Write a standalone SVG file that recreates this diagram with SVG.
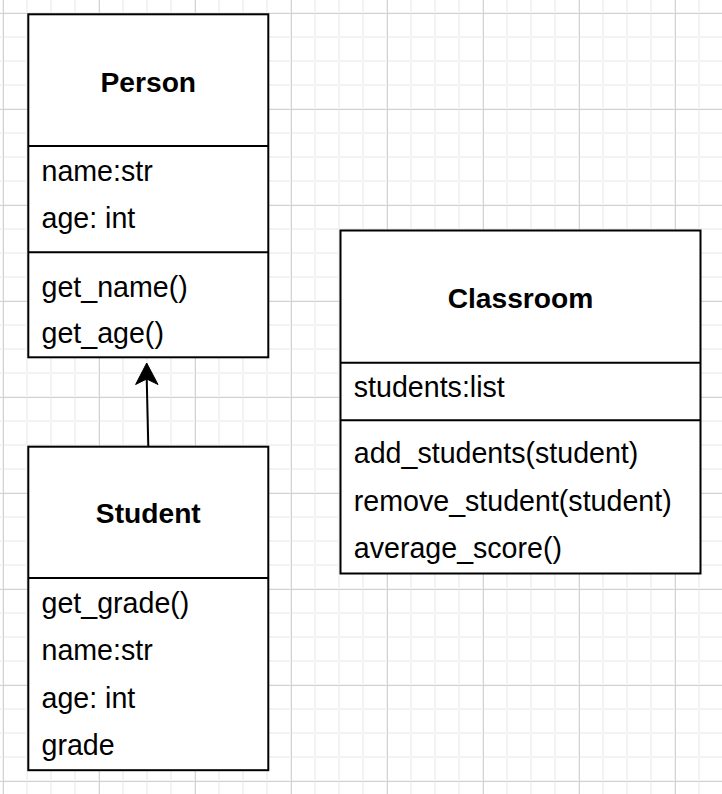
<svg xmlns="http://www.w3.org/2000/svg" width="722" height="794" viewBox="0 0 722 794">
<style>
.minor{stroke:#f3f3f3;stroke-width:2;fill:none}
.major{stroke:#d2d2d2;stroke-width:1;fill:none}
.box{fill:#ffffff;stroke:#000000;stroke-width:2}
.sep{stroke:#000000;stroke-width:2;fill:none}
.title{font-family:"Liberation Sans",Arial,Helvetica,sans-serif;font-size:28.2px;font-weight:bold;text-anchor:middle;fill:#000}
.row{font-family:"Liberation Sans",Arial,Helvetica,sans-serif;font-size:28.6px;fill:#000}
.edge{stroke:#000000;stroke-width:2;fill:none}
</style>
<rect x="0" y="0" width="722" height="794" fill="#ffffff"/>
<g id="grid">
<path class="minor" d="M3 0V794M27 0V794M51 0V794M75 0V794M99 0V794M123 0V794M147 0V794M171 0V794M195 0V794M219 0V794M243 0V794M267 0V794M291 0V794M315 0V794M339 0V794M363 0V794M387 0V794M411 0V794M435 0V794M459 0V794M483 0V794M507 0V794M531 0V794M555 0V794M579 0V794M603 0V794M627 0V794M651 0V794M675 0V794M699 0V794
M0 13H722M0 37H722M0 61H722M0 85H722M0 109H722M0 133H722M0 157H722M0 181H722M0 205H722M0 229H722M0 253H722M0 277H722M0 301H722M0 325H722M0 349H722M0 373H722M0 397H722M0 421H722M0 445H722M0 469H722M0 493H722M0 517H722M0 541H722M0 565H722M0 589H722M0 613H722M0 637H722M0 661H722M0 685H722M0 709H722M0 733H722M0 757H722M0 781H722"/>
<path class="major" d="M3.5 0V794M99.5 0V794M195.5 0V794M291.5 0V794M387.5 0V794M483.5 0V794M579.5 0V794M675.5 0V794
M0 13.5H722M0 109.5H722M0 205.5H722M0 301.5H722M0 397.5H722M0 493.5H722M0 589.5H722M0 685.5H722M0 781.5H722"/>
</g>
<g id="connectors">
<path class="edge" d="M148.3 446 L146.7 378"/>
<polygon points="146.7,363 158,384.5 146.7,379 135.6,384.5" fill="#000" stroke="#000" stroke-width="1"/>
</g>
<g id="person">
<rect class="box" x="28.3" y="14.3" width="240" height="343"/>
<path class="sep" d="M28.3 146H268.3M28.3 252.3H268.3"/>
<text class="title" x="148.3" y="91.7">Person</text>
<text class="row" x="41.5" y="180.7">name:str</text>
<text class="row" x="41.5" y="228.3">age: int</text>
<text class="row" x="41.5" y="296.7">get_name()</text>
<text class="row" x="41.5" y="343.3">get_age()</text>
</g>
<g id="student">
<rect class="box" x="28.3" y="446.7" width="240" height="323.5"/>
<path class="sep" d="M28.3 578H268.3"/>
<text class="title" x="148.3" y="523.3">Student</text>
<text class="row" x="41.5" y="613.3">get_grade()</text>
<text class="row" x="41.5" y="660">name:str</text>
<text class="row" x="41.5" y="707.7">age: int</text>
<text class="row" x="41.5" y="755">grade</text>
</g>
<g id="classroom">
<rect class="box" x="340.5" y="230.5" width="360" height="343"/>
<path class="sep" d="M340.5 362.7H700.5M340.5 420.3H700.5"/>
<text class="title" x="520.5" y="308.3">Classroom</text>
<text class="row" x="353.8" y="396.7">students:list</text>
<text class="row" x="353.8" y="463.3">add_students(student)</text>
<text class="row" x="353.8" y="510.7">remove_student(student)</text>
<text class="row" x="353.8" y="558">average_score()</text>
</g>
</svg>
